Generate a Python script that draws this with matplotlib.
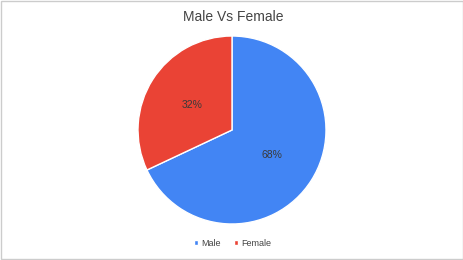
import matplotlib.pyplot as plt
from matplotlib.patches import Rectangle

plt.rcParams['font.family'] = ['Liberation Sans', 'DejaVu Sans']

labels = ['Male', 'Female']
values = [68, 32]
colors = ['#4285F4', '#EA4335']

fig = plt.figure(figsize=(4.64, 2.6), dpi=100)
fig.patches.append(Rectangle((0.002, 0.004), 0.996, 0.992, transform=fig.transFigure,
                             fill=False, edgecolor='#cccccc', linewidth=1))

ax = fig.add_axes([0.5 - 0.2026, 0.5 - 0.3615, 0.4052, 0.723])
wedges, texts, autotexts = ax.pie(values, colors=colors, startangle=90, counterclock=False,
                                  autopct='%1.0f%%', pctdistance=0.5,
                                  wedgeprops=dict(edgecolor='white', linewidth=1),
                                  textprops=dict(fontsize=7.5, color='#3a3a3a'))
ax.set_xlim(-1, 1)
ax.set_ylim(-1, 1)
ax.set_aspect('equal')

fig.text(0.502, 0.935, 'Male Vs Female', ha='center', va='center', fontsize=10, color='#444444')

fig.legend(wedges, labels, loc='center', bbox_to_anchor=(0.502, 0.065), ncol=2, frameon=False,
           fontsize=6.5, handlelength=0.4, handleheight=0.4, handletextpad=0.4, columnspacing=1.5,
           labelcolor='#444444')

fig.savefig('out.png', dpi=100)
